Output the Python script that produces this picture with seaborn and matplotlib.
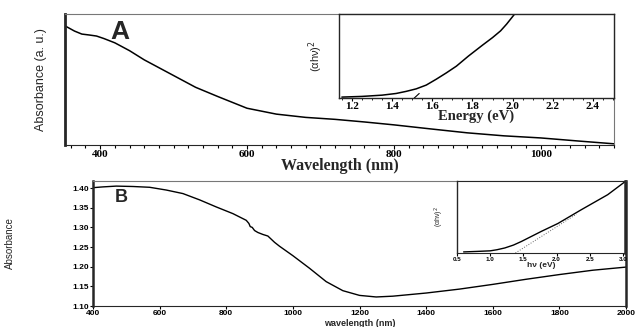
import numpy as np
import pandas as pd
import matplotlib
matplotlib.use("Agg")
import matplotlib.pyplot as plt
from matplotlib.ticker import MultipleLocator
import seaborn as sns

# panel A: absorbance vs wavelength (arbitrary units)
wl_a = [352, 365, 375, 385, 395, 405, 420, 440, 460, 480, 500, 530, 560,
        600, 640, 680, 720, 760, 800, 850, 900, 950, 1000, 1050, 1100]
abs_a = [0.91, 0.87, 0.847, 0.84, 0.832, 0.813, 0.78, 0.72, 0.65, 0.59,
         0.53, 0.44, 0.37, 0.28, 0.235, 0.21, 0.195, 0.175, 0.153, 0.122,
         0.092, 0.069, 0.053, 0.03, 0.008]

# panel A inset: Tauc plot
e_a = [1.15, 1.25, 1.35, 1.42, 1.47, 1.52, 1.57, 1.62, 1.67, 1.72, 1.78,
       1.85, 1.90, 1.94, 1.97, 2.0, 2.01]
tauc_a = [0.012, 0.02, 0.035, 0.055, 0.08, 0.11, 0.155, 0.225, 0.30, 0.38,
          0.50, 0.63, 0.72, 0.80, 0.88, 0.97, 1.0]
tan_a_x = [1.51, 1.535]
tan_a_y = [0.0, 0.055]

# panel B: absorbance vs wavelength
wl_b = [400, 430, 470, 520, 570, 620, 670, 720, 770, 820, 860, 868, 872,
        878, 885, 895, 910, 925, 935, 945, 960, 1000, 1050, 1100, 1150,
        1200, 1250, 1300, 1400, 1500, 1600, 1700, 1800, 1900, 2000]
abs_b = [1.401, 1.403, 1.405, 1.404, 1.402, 1.395, 1.386, 1.370, 1.352,
         1.335, 1.318, 1.310, 1.302, 1.300, 1.292, 1.287, 1.282, 1.278,
         1.270, 1.262, 1.252, 1.228, 1.196, 1.162, 1.139, 1.127, 1.123,
         1.125, 1.133, 1.143, 1.155, 1.168, 1.180, 1.191, 1.199]

# panel B inset: Tauc plot with linear fit
e_b = [0.6, 0.8, 1.0, 1.1, 1.22, 1.35, 1.47, 1.62, 1.77, 2.02, 2.37, 2.77,
       3.03]
tauc_b = [0.015, 0.022, 0.03, 0.045, 0.07, 0.11, 0.16, 0.23, 0.30, 0.41,
          0.60, 0.81, 0.99]
fit_b_x = [1.38, 2.3]
fit_b_y = [0.0, 0.54]

sns.set_style("white", {"xtick.bottom": True, "ytick.left": True,
                        "xtick.color": "black", "ytick.color": "black"})
plt.rcParams['axes.linewidth'] = 0.8

serif = ['Liberation Serif', 'DejaVu Serif']
sans = ['Liberation Sans', 'DejaVu Sans']
narrow = ['Liberation Sans Narrow', 'Liberation Sans', 'DejaVu Sans']

fig = plt.figure(figsize=(6.43, 3.27), dpi=100)

# ---------- panel A ----------
ax_a = fig.add_axes([0.101, 0.557, 0.854, 0.400])
sns.lineplot(x=wl_a, y=abs_a, ax=ax_a, color='black', lw=1.1)
ax_a.set_xlim(352, 1100)
ax_a.set_ylim(0, 1)
ax_a.set_yticks([])
ax_a.xaxis.set_major_locator(MultipleLocator(200))
ax_a.xaxis.set_minor_locator(MultipleLocator(20))
ax_a.tick_params(axis='x', which='major', length=3, width=0.8, pad=1,
                 direction='out', bottom=True, color='black')
ax_a.tick_params(axis='x', which='minor', length=2, width=0.8,
                 direction='out', bottom=True, color='black')
for lab in ax_a.get_xticklabels():
    lab.set_family(serif)
    lab.set_fontweight('bold')
    lab.set_fontsize(8)
ax_a.set_xlabel('Wavelength (nm)', family=serif, fontweight='bold',
                fontsize=11.5, labelpad=-1)
ax_a.set_ylabel('Absorbance (a. u.)', family=narrow, fontsize=9)
ax_a.yaxis.set_label_coords(-0.033, 0.5)
ax_a.spines['left'].set_linewidth(2)
ax_a.spines['top'].set_color('#777777')
ax_a.spines['right'].set_color('#777777')
ax_a.text(0.082, 0.86, 'A', transform=ax_a.transAxes, family=sans,
          fontweight='bold', fontsize=19, va='center')

ins_a = fig.add_axes([0.527, 0.700, 0.428, 0.257])
sns.lineplot(x=e_a, y=tauc_a, ax=ins_a, color='black', lw=1.1)
ins_a.plot(tan_a_x, tan_a_y, color='black', lw=0.8)
ins_a.set_xlim(1.135, 2.505)
ins_a.set_ylim(0, 1)
ins_a.set_yticks([])
ins_a.xaxis.set_minor_locator(MultipleLocator(0.05))
ins_a.set_xticks([1.2, 1.4, 1.6, 1.8, 2.0, 2.2, 2.4])
ins_a.set_xticklabels(['1.2', '1.4', '1.6', '1.8', '2.0', '2.2', '2.4'],
                      family=serif, fontweight='bold', fontsize=8)
ins_a.tick_params(axis='x', which='major', length=2, pad=1, bottom=True,
                  color='black')
ins_a.tick_params(axis='x', which='minor', length=1.5, bottom=True,
                  color='black')
ins_a.set_xlabel('Energy (eV)', family=serif, fontweight='bold',
                 fontsize=10.5, labelpad=-1)
ins_a.set_ylabel('(\u03b1h\u03bd)$^2$', family=narrow, fontsize=8)
ins_a.yaxis.set_label_coords(-0.05, 0.5)
for s in ins_a.spines.values():
    s.set_linewidth(1.0)

# ---------- panel B ----------
ax_b = fig.add_axes([0.1446, 0.0642, 0.829, 0.3823])
sns.lineplot(x=wl_b, y=abs_b, ax=ax_b, color='black', lw=1.0)
ax_b.set_xlim(400, 2000)
ax_b.set_ylim(1.10, 1.418)
ax_b.set_xticks(np.arange(400, 2001, 200))
ax_b.set_yticks([1.10, 1.15, 1.20, 1.25, 1.30, 1.35, 1.40])
ax_b.set_yticklabels(['1.10', '1.15', '1.20', '1.25', '1.30', '1.35',
                      '1.40'])
ax_b.tick_params(axis='both', length=2, width=0.8, pad=1, color='black',
                 bottom=True, left=True, labelsize=6)
for lab in ax_b.get_xticklabels() + ax_b.get_yticklabels():
    lab.set_family(sans)
    lab.set_fontweight('bold')
ax_b.set_xlabel('wavelength (nm)', family=sans, fontweight='bold',
                fontsize=6.5, va='center')
ax_b.xaxis.set_label_coords(0.5, -0.14)
ax_b.set_ylabel('Absorbance', family=narrow, fontsize=7)
ax_b.yaxis.set_label_coords(-0.146, 0.5)
ax_b.spines['left'].set_linewidth(1.8)
ax_b.spines['right'].set_linewidth(1.8)
ax_b.spines['top'].set_color('#777777')
ax_b.text(0.04, 0.87, 'B', transform=ax_b.transAxes, family=sans,
          fontweight='bold', fontsize=13, va='center')

ins_b = fig.add_axes([0.7107, 0.2263, 0.2613, 0.2202])
sns.lineplot(x=e_b, y=tauc_b, ax=ins_b, color='black', lw=1.0)
ins_b.plot(fit_b_x, fit_b_y, color='#666666', lw=0.7, ls=':')
ins_b.set_xlim(0.5, 3.03)
ins_b.set_ylim(0, 1)
ins_b.set_yticks([])
ins_b.set_xticks([0.5, 1.0, 1.5, 2.0, 2.5, 3.0])
ins_b.set_xticklabels(['0.5', '1.0', '1.5', '2.0', '2.5', '3.0'],
                      family=sans, fontweight='bold', fontsize=4.5)
ins_b.tick_params(axis='x', length=2, pad=1, bottom=True, color='black')
ins_b.set_xlabel('h\u03bd (eV)', family=sans, fontweight='bold',
                 fontsize=6, labelpad=0)
ins_b.set_ylabel('(\u03b1h\u03bd)$^2$', family=narrow, fontsize=5)
ins_b.yaxis.set_label_coords(-0.065, 0.5)
ins_b.spines['left'].set_linewidth(1.0)
ins_b.spines['right'].set_linewidth(1.8)

fig.savefig('out.png', dpi=100)
